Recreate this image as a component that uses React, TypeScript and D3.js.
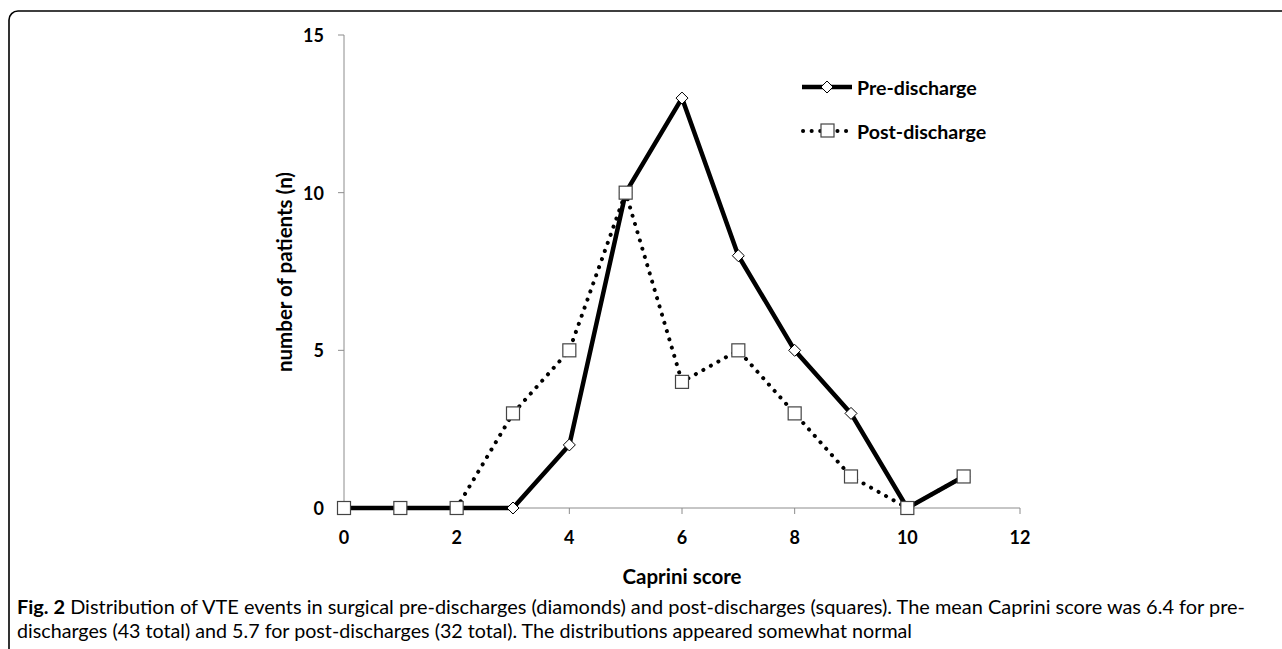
import React from "react";
import * as d3 from "d3";

const scores = [0, 1, 2, 3, 4, 5, 6, 7, 8, 9, 10, 11];
const preDischarge = [0, 0, 0, 0, 2, 10, 13, 8, 5, 3, 0, 1];
const postDischarge = [0, 0, 0, 3, 5, 10, 4, 5, 3, 1, 0, 1];
const xTicks = [0, 2, 4, 6, 8, 10, 12];
const yTicks = [0, 5, 10, 15];

const W = 1282;
const H = 649;
const FONT = "Lato, 'Open Sans', sans-serif";

const App = () => {
  const x = d3.scaleLinear().domain([0, 12]).range([344, 1020]);
  const y = d3.scaleLinear().domain([0, 15]).range([508, 35]);

  const line = d3
    .line<number>()
    .x((_, i) => x(scores[i]))
    .y((d) => y(d));

  const diamond = (cx: number, cy: number, r: number) =>
    `M${cx},${cy - r}L${cx + r},${cy}L${cx},${cy + r}L${cx - r},${cy}Z`;

  return (
    <svg
      width={W}
      height={H}
      style={{ position: "absolute", left: 0, top: 0, background: "#fff" }}
    >
      {/* frame */}
      <rect x={9} y={11} width={W + 20} height={H + 20} rx={9} fill="none" stroke="#000" strokeWidth={1.6} />

      {/* axes */}
      <line x1={x(0)} x2={x(0)} y1={y(0)} y2={y(15)} stroke="#8c8c8c" />
      <line x1={x(0)} x2={x(12)} y1={y(0)} y2={y(0)} stroke="#8c8c8c" />
      {yTicks.map((t) => (
        <g key={"y" + t}>
          <line x1={x(0) - 6} x2={x(0)} y1={y(t)} y2={y(t)} stroke="#8c8c8c" />
          <text x={x(0) - 20} y={y(t)} textAnchor="end" dominantBaseline="central" fontFamily={FONT} fontWeight="bold" fontSize={18}>
            {t}
          </text>
        </g>
      ))}
      {xTicks.map((t) => (
        <g key={"x" + t}>
          <line x1={x(t)} x2={x(t)} y1={y(0)} y2={y(0) + 6} stroke="#8c8c8c" />
          <text x={x(t)} y={y(0) + 29} textAnchor="middle" dominantBaseline="central" fontFamily={FONT} fontWeight="bold" fontSize={18}>
            {t}
          </text>
        </g>
      ))}
      <text
        transform={`translate(284, 272) rotate(-90)`}
        textAnchor="middle"
        dominantBaseline="central"
        fontFamily={FONT}
        fontWeight="bold"
        fontSize={20.5}
      >
        number of patients (n)
      </text>
      <text x={682} y={576} textAnchor="middle" dominantBaseline="central" fontFamily={FONT} fontWeight="bold" fontSize={20.5}>
        Caprini score
      </text>

      {/* series lines */}
      <path d={line(postDischarge) || ""} fill="none" stroke="#000" strokeWidth={4} strokeDasharray="0.1 8.5" strokeLinecap="round" />
      <path d={line(preDischarge) || ""} fill="none" stroke="#000" strokeWidth={4.5} strokeLinejoin="round" />

      {/* markers */}
      {preDischarge.map((d, i) => (
        <path key={"d" + i} d={diamond(x(scores[i]), y(d), 6)} fill="#fff" stroke="#000" strokeWidth={1} />
      ))}
      {postDischarge.map((d, i) => (
        <rect key={"s" + i} x={x(scores[i]) - 6.5} y={y(d) - 6.5} width={13} height={13} fill="#fff" stroke="#444" strokeWidth={1.2} />
      ))}

      {/* legend */}
      <line x1={802} x2={852} y1={87} y2={87} stroke="#000" strokeWidth={4.5} />
      <path d={diamond(827, 87, 6)} fill="#fff" stroke="#000" strokeWidth={1} />
      <text x={857} y={87} dominantBaseline="central" fontFamily={FONT} fontWeight="bold" fontSize={19.6}>
        Pre-discharge
      </text>
      <line x1={803} x2={852} y1={131} y2={131} stroke="#000" strokeWidth={4} strokeDasharray="0.1 8.5" strokeLinecap="round" />
      <rect x={821} y={124} width={13} height={13} fill="#fff" stroke="#444" strokeWidth={1.2} />
      <text x={857} y={131} dominantBaseline="central" fontFamily={FONT} fontWeight="bold" fontSize={19.6}>
        Post-discharge
      </text>

      {/* caption */}
      <text x={17} y={606} dominantBaseline="central" fontFamily={FONT} fontSize={19} textLength={1228} lengthAdjust="spacingAndGlyphs">
        <tspan fontWeight="bold">Fig. 2</tspan> Distribution of VTE events in surgical pre-discharges (diamonds) and post-discharges (squares). The mean Caprini score was 6.4 for pre-
      </text>
      <text x={17} y={630} dominantBaseline="central" fontFamily={FONT} fontSize={19} textLength={895} lengthAdjust="spacingAndGlyphs">
        discharges (43 total) and 5.7 for post-discharges (32 total). The distributions appeared somewhat normal
      </text>
    </svg>
  );
};

export default App;
